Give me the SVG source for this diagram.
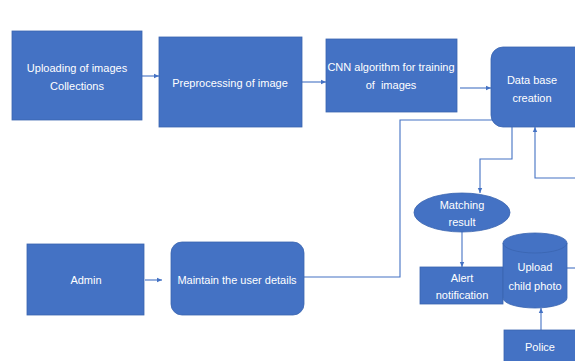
<svg xmlns="http://www.w3.org/2000/svg" width="575" height="361" viewBox="0 0 575 361">
<defs>
<style>
.n{fill:#4472C4;stroke:#3A64B0;stroke-width:0.8}
.t{fill:#ffffff;font-family:"Liberation Sans",Arial,sans-serif;font-size:11px;text-anchor:middle}
.c{fill:none;stroke:#4472C4;stroke-width:1.1}
</style>
<marker id="a" markerWidth="6" markerHeight="6" refX="5" refY="3" orient="auto" markerUnits="userSpaceOnUse">
<path d="M0,0.8 L5,3 L0,5.2 Z" fill="#4472C4"/>
</marker>
</defs>
<rect width="575" height="361" fill="#ffffff"/>
<g id="connectors">
<path class="c" d="M142,76 H159" marker-end="url(#a)"/>
<path class="c" d="M302,82 H326" marker-end="url(#a)"/>
<path class="c" d="M460,88 H491" marker-end="url(#a)"/>
<path class="c" d="M512,127 V159 H480 V193" marker-end="url(#a)"/>
<path class="c" d="M304,277 H400 V120 H493"/>
<path class="c" d="M575,178 H535 V127" marker-end="url(#a)"/>
<path class="c" d="M462,232 V267" marker-end="url(#a)"/>
<path class="c" d="M145,280 H162" marker-end="url(#a)"/>
<path class="c" d="M567,268 H575"/>
<path class="c" d="M541,330 V308" marker-end="url(#a)"/>
</g>
<g id="uploading">
<rect class="n" x="12" y="31" width="130" height="89"/>
<text class="t" x="77" y="72">Uploading of images</text>
<text class="t" x="77" y="90">Collections</text>
</g>
<g id="preprocessing">
<rect class="n" x="159" y="37" width="143" height="90"/>
<text class="t" x="230" y="87">Preprocessing of image</text>
</g>
<g id="cnn">
<rect class="n" x="326" y="39" width="131" height="73"/>
<text class="t" x="391" y="71">CNN algorithm for training</text>
<text class="t" x="391" y="89" xml:space="preserve">of  images</text>
</g>
<g id="database">
<rect class="n" x="491" y="47" width="100" height="80" rx="12" ry="12"/>
<text class="t" x="532" y="84">Data base</text>
<text class="t" x="532" y="102">creation</text>
</g>
<g id="matching">
<ellipse class="n" cx="462" cy="212.5" rx="48" ry="19.5"/>
<text class="t" x="462" y="209">Matching</text>
<text class="t" x="462" y="226">result</text>
</g>
<g id="alert">
<rect class="n" x="420" y="267" width="83" height="37"/>
<text class="t" x="462" y="282">Alert</text>
<text class="t" x="462" y="299">notification</text>
</g>
<g id="upload">
<path class="n" d="M503,243 A32,10 0 0 1 567,243 V298 A32,10 0 0 1 503,298 Z"/>
<path fill="none" stroke="#3A64B0" stroke-width="0.8" d="M503,243 A32,10 0 0 0 567,243"/>
<text class="t" x="535" y="271">Upload</text>
<text class="t" x="535" y="290">child photo</text>
</g>
<g id="police">
<rect class="n" x="504" y="330" width="80" height="40"/>
<text class="t" x="540" y="351">Police</text>
</g>
<g id="admin">
<rect class="n" x="27" y="244" width="117" height="71"/>
<text class="t" x="86" y="284">Admin</text>
</g>
<g id="maintain">
<rect class="n" x="171" y="242" width="133" height="73" rx="11" ry="11"/>
<text class="t" x="237" y="284">Maintain the user details</text>
</g>
</svg>
